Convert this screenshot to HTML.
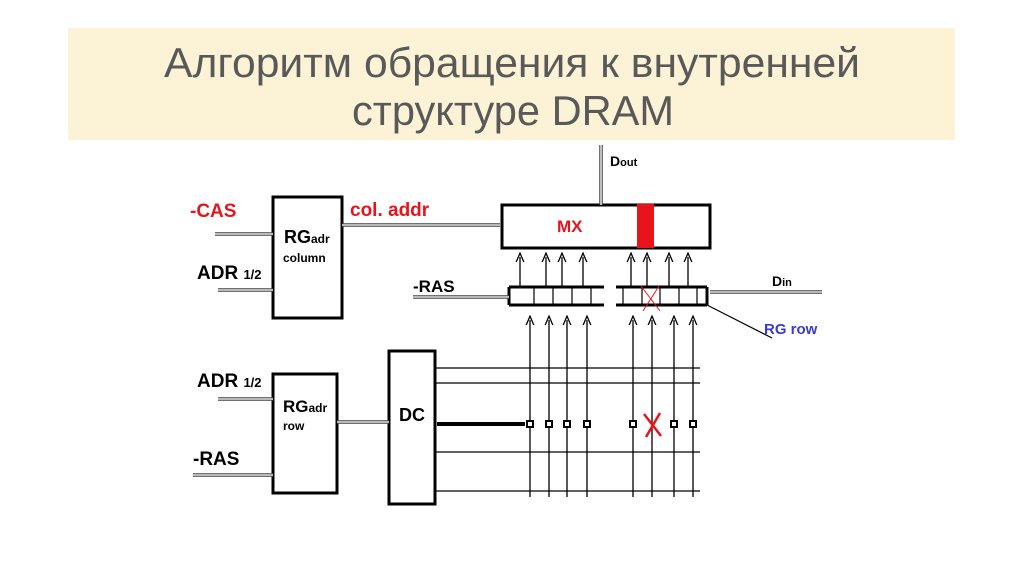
<!DOCTYPE html>
<html><head><meta charset="utf-8"><style>
body{margin:0;background:#fff;width:1024px;height:574px;overflow:hidden}
svg{display:block}
.t{font-family:"Liberation Sans",sans-serif;font-weight:bold}
</style></head><body>
<svg width="1024" height="574" viewBox="0 0 1024 574">
<defs>
<marker id="a" markerWidth="8" markerHeight="8" refX="4" refY="4" orient="auto"><path d="M0,1 L7,4 L0,7" fill="none" stroke="#000" stroke-width="1"/></marker>
</defs>
<rect x="68" y="28" width="887" height="112" fill="#fcf3d7"/>
<text x="164" y="77" textLength="696" lengthAdjust="spacingAndGlyphs" font-family="Liberation Sans,sans-serif" font-size="42" fill="#595959">Алгоритм обращения к внутренней</text>
<text x="352" y="125" textLength="322" lengthAdjust="spacingAndGlyphs" font-family="Liberation Sans,sans-serif" font-size="42" fill="#595959">структуре DRAM</text>
<g fill="none" stroke="#000">
<rect x="273" y="197" width="69" height="121" stroke-width="3"/>
<rect x="273" y="374" width="64" height="119" stroke-width="3"/>
<rect x="389" y="351" width="46" height="153" stroke-width="3"/>
<rect x="502" y="205" width="208" height="43" stroke-width="3"/>
<g stroke-width="3"><line x1="509" y1="287" x2="604" y2="287"/><line x1="509" y1="305" x2="604" y2="305"/><line x1="616" y1="287" x2="707" y2="287"/><line x1="616" y1="305" x2="707" y2="305"/><line x1="509" y1="287" x2="509" y2="305"/><line x1="707" y1="287" x2="707" y2="305"/></g>
<g stroke-width="1.2">
<line x1="534" y1="287" x2="534" y2="305"/><line x1="553" y1="287" x2="553" y2="305"/><line x1="572" y1="287" x2="572" y2="305"/><line x1="591" y1="287" x2="591" y2="305"/>
<line x1="623" y1="287" x2="623" y2="305"/><line x1="642" y1="287" x2="642" y2="305"/><line x1="660" y1="287" x2="660" y2="305"/><line x1="679" y1="287" x2="679" y2="305"/><line x1="697" y1="287" x2="697" y2="305"/>
</g>
<g id="dl">
<line x1="215" y1="234" x2="273" y2="234"/>
<line x1="218" y1="290" x2="273" y2="290"/>
<line x1="218" y1="399" x2="273" y2="399"/>
<line x1="193" y1="475" x2="273" y2="475"/>
<line x1="337" y1="422" x2="389" y2="422"/>
<line x1="342" y1="225" x2="500" y2="225"/>
<line x1="413" y1="297" x2="509" y2="297"/>
<line x1="710" y1="292" x2="822" y2="292"/>
<line x1="601" y1="145" x2="601" y2="205"/>
</g>
<line x1="707" y1="305" x2="772" y2="338" stroke-width="1.2"/>
<g stroke-width="1.3">
<line x1="436" y1="368" x2="700" y2="368"/><line x1="436" y1="383" x2="700" y2="383"/>
<line x1="436" y1="452" x2="700" y2="452"/><line x1="436" y1="491" x2="700" y2="491"/>
</g>
<line x1="437" y1="424" x2="525" y2="424" stroke-width="4"/>
<g stroke-width="1.3" marker-end="url(#a)">
<line x1="530" y1="497" x2="530" y2="320"/><line x1="549" y1="497" x2="549" y2="320"/><line x1="567" y1="497" x2="567" y2="320"/><line x1="587" y1="497" x2="587" y2="320"/>
<line x1="633" y1="497" x2="633" y2="320"/><line x1="652" y1="497" x2="652" y2="320"/><line x1="674" y1="497" x2="674" y2="320"/><line x1="693" y1="497" x2="693" y2="320"/>
<line x1="520" y1="287" x2="520" y2="257"/><line x1="546" y1="287" x2="546" y2="257"/><line x1="562" y1="287" x2="562" y2="257"/><line x1="583" y1="287" x2="583" y2="257"/>
<line x1="631" y1="287" x2="631" y2="257"/><line x1="647" y1="287" x2="647" y2="257"/><line x1="669" y1="287" x2="669" y2="257"/><line x1="688" y1="287" x2="688" y2="257"/>
</g>
<g stroke-width="2" fill="#fff">
<rect x="527" y="421" width="6" height="6"/><rect x="546" y="421" width="6" height="6"/><rect x="564" y="421" width="6" height="6"/><rect x="584" y="421" width="6" height="6"/>
<rect x="630" y="421" width="6" height="6"/><rect x="671" y="421" width="6" height="6"/><rect x="690" y="421" width="6" height="6"/>
</g>
</g>
<use href="#dl" stroke="#444" stroke-width="3.5"/>
<use href="#dl" stroke="#fff" stroke-width="1.3"/>
<rect x="637" y="204" width="17" height="44" fill="#e8141c"/>
<g stroke="#e8141c" stroke-width="2.5"><line x1="644" y1="414" x2="661" y2="436"/><line x1="660" y1="413" x2="646" y2="437"/></g>
<g stroke="#e8141c" stroke-width="1"><line x1="641" y1="286" x2="660" y2="311"/><line x1="659" y1="286" x2="643" y2="311"/></g>
<text class="t" x="190" y="217" font-size="19" fill="#e8141c">-CAS</text>
<text class="t" x="350" y="216" font-size="19" fill="#e8141c">col. addr</text>
<text class="t" x="557" y="232" font-size="17" fill="#e8141c">MX</text>
<text class="t" x="197" y="279" font-size="19">ADR <tspan font-size="13">1/2</tspan></text>
<text class="t" x="197" y="387" font-size="19">ADR <tspan font-size="13">1/2</tspan></text>
<text class="t" x="193" y="465" font-size="19">-RAS</text>
<text class="t" x="413" y="292" font-size="17">-RAS</text>
<text class="t" x="284" y="243" font-size="18">RG<tspan font-size="12">adr</tspan></text>
<text class="t" x="283" y="262" font-size="12">column</text>
<text class="t" x="283" y="412" font-size="17">RG<tspan font-size="12">adr</tspan></text>
<text class="t" x="283" y="430" font-size="12">row</text>
<text class="t" x="399" y="421" font-size="18">DC</text>
<text class="t" x="610" y="166" font-size="14">D<tspan font-size="11">out</tspan></text>
<text class="t" x="772" y="286" font-size="14">D<tspan font-size="11">in</tspan></text>
<text class="t" x="764" y="334" font-size="15" fill="#3b3bc8">RG row</text>
</svg>
</body></html>
